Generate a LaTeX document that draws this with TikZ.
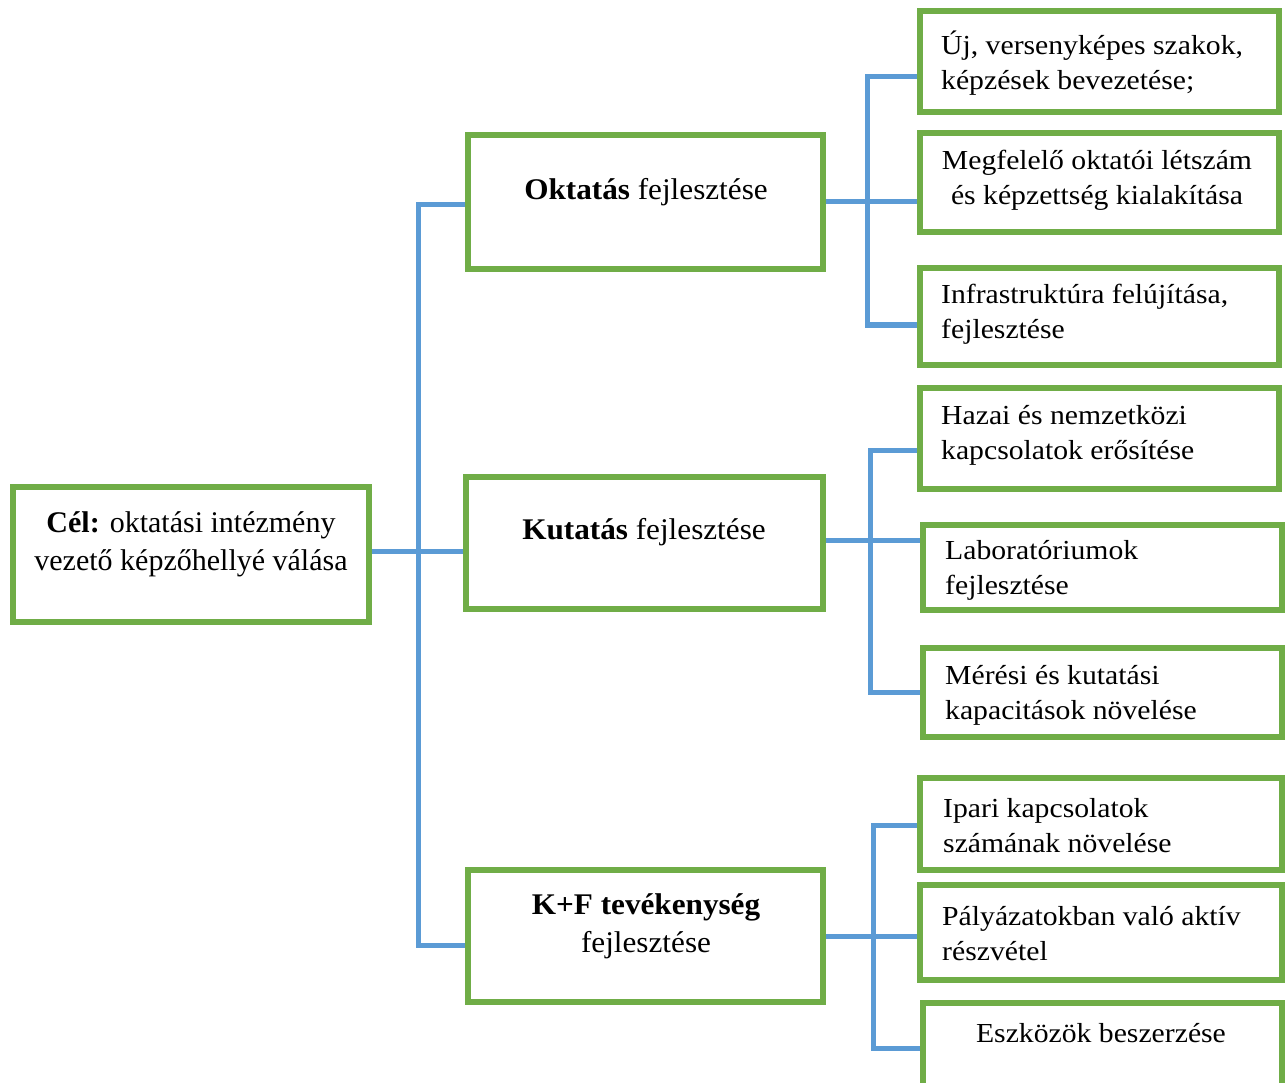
\documentclass[tikz,border=0pt]{standalone}
\usepackage{fontspec}
\setmainfont{Liberation Serif}
\newfontfamily\midfont[FakeStretch=1.04]{Liberation Serif}
\newfontfamily\rfont[FakeStretch=1.08]{Liberation Serif}
\definecolor{boxgreen}{HTML}{70AD47}
\definecolor{lineblue}{HTML}{5B9BD5}
\begin{document}
\begin{tikzpicture}[x=1pt,y=-1pt,
  box/.style={draw=boxgreen, line width=6pt, fill=white, inner sep=0pt},
  conn/.style={draw=lineblue, line width=5pt},
  celtxt/.style={font=\fontsize{30}{38}\selectfont, inner sep=0pt, align=center},
  midtxt/.style={font=\midfont\fontsize{30}{38}\selectfont, inner sep=0pt, align=center},
  txt/.style={font=\rfont\fontsize{27.5}{35}\selectfont, inner sep=0pt, align=center},
  ltxt/.style={txt, align=left, anchor=west}]
\useasboundingbox (0,0) rectangle (1285,1083);
\clip (0,0) rectangle (1285,1083);
% left and middle boxes
\node[box, minimum width=356pt, minimum height=135pt] (cel) at (191,554.5) {};
\node[box, minimum width=355pt, minimum height=134pt] (okt) at (645.5,202) {};
\node[box, minimum width=357pt, minimum height=132pt] (kut) at (644.5,543) {};
\node[box, minimum width=355pt, minimum height=132pt] (kf) at (645.5,936) {};
% right boxes
\node[box, minimum width=359pt, minimum height=101pt] (b1) at (1099.5,61.5) {};
\node[box, minimum width=359pt, minimum height=99pt] (b2) at (1099.5,182.5) {};
\node[box, minimum width=359pt, minimum height=97pt] (b3) at (1099.5,316.5) {};
\node[box, minimum width=359pt, minimum height=101pt] (b4) at (1099.5,438.5) {};
\node[box, minimum width=359pt, minimum height=85pt] (b5) at (1102.5,567.5) {};
\node[box, minimum width=359pt, minimum height=89pt] (b6) at (1102.5,692.5) {};
\node[box, minimum width=362pt, minimum height=92pt] (b7) at (1101,824) {};
\node[box, minimum width=362pt, minimum height=95pt] (b8) at (1101,932.5) {};
\node[box, minimum width=359pt, minimum height=90pt] (b9) at (1102.5,1048) {};
% texts
\node[celtxt] (tcel) at (191,544) {\textbf{Cél:} oktatási intézmény\\vezető képzőhellyé válása};
\node[midtxt] (tokt) at (646,192) {\textbf{Oktatás} fejlesztése};
\node[midtxt] (tkut) at (644,532) {\textbf{Kutatás} fejlesztése};
\node[midtxt] (tkf) at (646,926) {\textbf{K+F tevékenység}\\fejlesztése};
\node[ltxt] (t1) at (941,63.5) {Új, versenyképes szakok,\\képzések bevezetése;};
\node[txt] (t2) at (1097,180.5) {Megfelelő oktatói létszám\\és képzettség kialakítása};
\node[ltxt] (t3) at (941,314.5) {Infrastruktúra felújítása,\\fejlesztése};
\node[ltxt] (t4) at (941,435.5) {Hazai és nemzetközi\\kapcsolatok erősítése};
\node[ltxt] (t5) at (945,570) {Laboratóriumok\\fejlesztése};
\node[ltxt] (t6) at (945,695) {Mérési és kutatási\\kapacitások növelése};
\node[ltxt] (t7) at (943,826) {Ipari kapcsolatok\\számának növelése};
\node[ltxt] (t8) at (942,933.5) {Pályázatokban való aktív\\részvétel};
\node[txt] (t9) at (1101,1033) {Eszközök beszerzése};
% connectors
\coordinate (tr) at (418,0);
\coordinate (r1) at (867,0);
\coordinate (r2) at (870,0);
\coordinate (r3) at (873,0);
\draw[conn] ([yshift=-3pt]okt.west) -- ([yshift=-3pt]okt.west -| tr) -- ([yshift=-9pt]kf.west -| tr) -- ([yshift=-9pt]kf.west);
\draw[conn] ([yshift=3pt]cel.east) -- ([yshift=3pt]cel.east -| kut.west);
% Oktatas bracket
\draw[conn] (okt.east) -- (okt.east -| b2.west);
\draw[conn] ([yshift=-15.5pt]b1.west) -- ([yshift=-15.5pt]b1.west -| r1) -- ([yshift=-8.5pt]b3.west -| r1) -- ([yshift=-8.5pt]b3.west);
% Kutatas bracket
\draw[conn] ([yshift=3pt]kut.east) -- ([yshift=3pt]kut.east -| b5.west);
\draw[conn] ([yshift=-12pt]b4.west) -- ([yshift=-12pt]b4.west -| r2) -- (b6.west -| r2) -- (b6.west);
% K+F bracket
\draw[conn] (kf.east) -- (kf.east -| b8.west);
\draw[conn] ([yshift=-1pt]b7.west) -- ([yshift=-1pt]b7.west -| r3) -- (b9.west -| r3) -- (b9.west);
\end{tikzpicture}
\end{document}
